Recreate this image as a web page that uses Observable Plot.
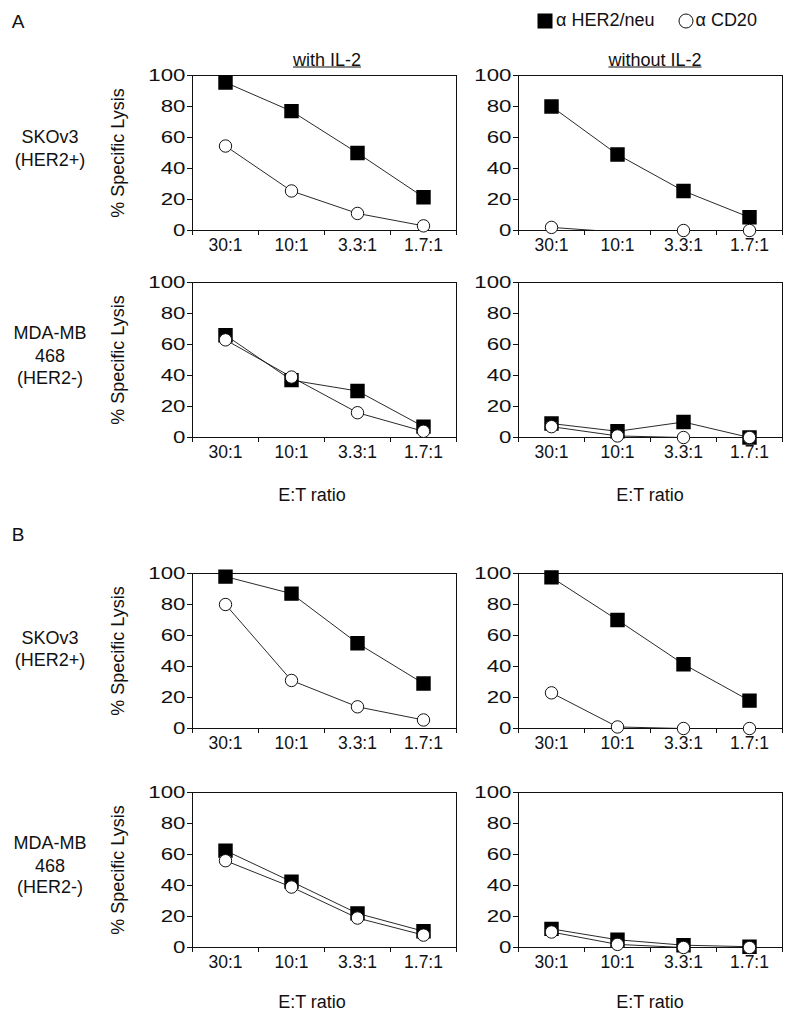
<!DOCTYPE html>
<html><head><meta charset="utf-8">
<script src="https://cdn.jsdelivr.net/npm/d3@7"></script>
<script src="https://cdn.jsdelivr.net/npm/@observablehq/plot@0.6"></script>
<style>
body{margin:0;background:#fff;}
#root{position:relative;width:795px;height:1019px;font-family:Arial,"Liberation Sans",sans-serif;color:#111;}
.t{position:absolute;transform:translate(-50%,-50%);white-space:nowrap;text-align:center;}
.p{position:absolute;}
</style></head>
<body><div id="root"></div>
<script>
const ratios = ["30:1", "10:1", "3.3:1", "1.7:1"];
const seriesNames = ["α HER2/neu", "α CD20"];
const yTicks = [0, 20, 40, 60, 80, 100];
const columnTitles = ["with IL-2", "without IL-2"];
const rowLabelsSK = ["SKOv3", "(HER2+)"];
const rowLabelsMDA = ["MDA-MB", "468", "(HER2-)"];

// Section A
const aSkWithHer2 = [95.5, 77, 50, 21.5];
const aSkWithCd20 = [54.5, 25.5, 11, 3];
const aSkWithoutHer2 = [80, 49, 25.5, 8.5];
const aSkWithoutCd20 = [2, -1, 0, 0];
const aMdaWithHer2 = [66, 37, 30, 7];
const aMdaWithCd20 = [63, 39, 16, 4];
const aMdaWithoutHer2 = [9, 4, 10, 0];
const aMdaWithoutCd20 = [7, 1, 0, 0];
// Section B
const bSkWithHer2 = [98, 87, 55, 29];
const bSkWithCd20 = [80, 31, 14, 5.5];
const bSkWithoutHer2 = [97.5, 70, 41.5, 18];
const bSkWithoutCd20 = [23, 1, 0, 0];
const bMdaWithHer2 = [62.5, 42.5, 22, 10.5];
const bMdaWithCd20 = [56, 39, 19, 8];
const bMdaWithoutHer2 = [12, 5, 1.5, 0.5];
const bMdaWithoutCd20 = [10, 2, 0, 0];

const root = document.getElementById("root");
const FONT = 'Arial, "Liberation Sans", sans-serif';

function text(str, x, y, size, extra) {
  const d = document.createElement("div");
  d.className = "t";
  d.textContent = str;
  d.style.left = x + "px";
  d.style.top = y + "px";
  d.style.fontSize = size + "px";
  if (extra) Object.assign(d.style, extra);
  root.appendChild(d);
  return d;
}

const colLeft = [192, 518];
const rowTop = [75, 282, 573, 792];
const PW = 264, PH = 155;
const ML = 50, MR = 10, MT = 10, MB = 40;

function panel(her2, cd20, col, row) {
  const h = ratios.map((r, i) => ({s: seriesNames[0], i: i + 0.5, v: her2[i]}));
  const c = ratios.map((r, i) => ({s: seriesNames[1], i: i + 0.5, v: cd20[i]}));
  const chart = Plot.plot({
    width: PW + ML + MR,
    height: PH + MT + MB,
    marginLeft: ML, marginRight: MR, marginTop: MT, marginBottom: MB,
    style: {fontSize: "17.5px", fontFamily: FONT, color: "#111", background: "transparent", overflow: "visible"},
    x: {domain: [0, 4], axis: null},
    y: {domain: [0, 100], axis: null},
    marks: [
      Plot.frame({stroke: "#111", strokeWidth: 1}),
      Plot.axisY({ticks: yTicks, tickSize: 5, tickPadding: 2, label: null, stroke: "#111", fontSize: 16.5}),
      Plot.axisX({ticks: [0, 1, 2, 3, 4], tickSize: 5, tickFormat: () => "", label: null, stroke: "#111"}),
      Plot.axisX({ticks: [0.5, 1.5, 2.5, 3.5], tickSize: 0, tickPadding: 8, tickFormat: d => ratios[d - 0.5], label: null}),
      Plot.line(h, {x: "i", y: "v", stroke: "#111", strokeWidth: 0.9, clip: true}),
      Plot.line(c, {x: "i", y: "v", stroke: "#111", strokeWidth: 0.9, clip: true}),
      Plot.dot(h.filter(d => d.v >= 0), {x: "i", y: "v", symbol: "square", r: 7.3, fill: "#000", stroke: "#000"}),
      Plot.dot(c.filter(d => d.v >= 0), {x: "i", y: "v", symbol: "circle", r: 6.2, fill: "#fff", stroke: "#111", strokeWidth: 1})
    ]
  });
  // widen the y tick labels as in the reference typography
  chart.querySelectorAll('[aria-label="y-axis tick label"] text').forEach(t => {
    const tr = t.getAttribute("transform") || "";
    t.setAttribute("transform", tr + " scale(1.35,1)");
  });
  const wrap = document.createElement("div");
  wrap.className = "p";
  wrap.style.left = (colLeft[col] - ML) + "px";
  wrap.style.top = (rowTop[row] - MT) + "px";
  wrap.appendChild(chart);
  root.appendChild(wrap);
}

panel(aSkWithHer2, aSkWithCd20, 0, 0);
panel(aSkWithoutHer2, aSkWithoutCd20, 1, 0);
panel(aMdaWithHer2, aMdaWithCd20, 0, 1);
panel(aMdaWithoutHer2, aMdaWithoutCd20, 1, 1);
panel(bSkWithHer2, bSkWithCd20, 0, 2);
panel(bSkWithoutHer2, bSkWithoutCd20, 1, 2);
panel(bMdaWithHer2, bMdaWithCd20, 0, 3);
panel(bMdaWithoutHer2, bMdaWithoutCd20, 1, 3);

// Section letters
text("A", 18, 22, 19);
text("B", 18, 535, 19);

// Legend
const leg = document.createElement("div");
leg.style.cssText = "position:absolute;left:537px;top:10px;font-size:18px;display:flex;align-items:center;white-space:nowrap;";
leg.innerHTML =
  '<svg width="16" height="16"><rect x="0.5" y="0.5" width="15" height="15" fill="#000"/></svg>' +
  '<span style="margin-left:3px">' + seriesNames[0] + '</span>' +
  '<svg width="16" height="16" style="margin-left:24px"><circle cx="8" cy="8" r="7" fill="#fff" stroke="#111"/></svg>' +
  '<span style="margin-left:1px">' + seriesNames[1] + '</span>';
root.appendChild(leg);

// Column titles
text(columnTitles[0], 327, 60, 18, {textDecoration: "underline"});
text(columnTitles[1], 655, 60, 18, {textDecoration: "underline"});

// Row labels
const rowLabelYs = [[137, 160], [333, 356, 378], [638, 660], [843, 866, 887]];
[rowLabelsSK, rowLabelsMDA, rowLabelsSK, rowLabelsMDA].forEach((lines, r) => {
  lines.forEach((s, k) => text(s, 50, rowLabelYs[r][k], 18));
});

// Y axis titles
rowTop.forEach(t => {
  text("% Specific Lysis", 118, t + PH / 2, 18, {transform: "translate(-50%,-50%) rotate(-90deg)"});
});

// X axis titles
text("E:T ratio", 312, 495, 18);
text("E:T ratio", 650, 495, 18);
text("E:T ratio", 312, 1002, 18);
text("E:T ratio", 650, 1002, 18);
</script></body></html>
